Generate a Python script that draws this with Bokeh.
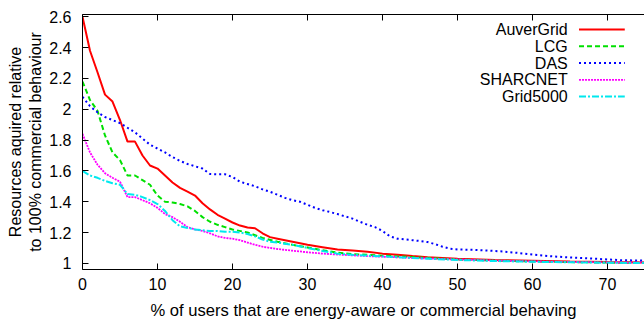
from bokeh.plotting import figure
from bokeh.models import Range1d, LinearAxis, FixedTicker, Label
from bokeh.embed import file_html
from bokeh.resources import INLINE

# ---- data ----
auvergrid_x = [0, 1, 2, 3, 4, 5, 6, 7, 8, 9, 10, 11, 12, 13, 14, 15, 16, 17, 18, 19, 20,
               21, 22, 23, 24, 25, 26, 28, 30, 32, 34, 36, 38, 40, 42, 44, 46, 48, 50,
               55, 60, 65, 70, 75]
auvergrid_y = [2.60, 2.38, 2.24, 2.095, 2.05, 1.93, 1.79, 1.79, 1.70, 1.635, 1.615, 1.57,
               1.525, 1.49, 1.465, 1.44, 1.39, 1.35, 1.315, 1.29, 1.265, 1.245, 1.232,
               1.228, 1.195, 1.17, 1.16, 1.14, 1.12, 1.105, 1.09, 1.083, 1.075, 1.063,
               1.055, 1.047, 1.04, 1.035, 1.03, 1.022, 1.017, 1.012, 1.008, 1.005]

lcg_x = [0, 1, 2, 3, 4, 5, 6, 7, 8, 9, 10, 11, 12, 13, 14, 15, 16, 17, 18, 19, 20, 22,
         24, 26, 28, 30, 32, 34, 36, 38, 40, 45, 50, 55, 60, 65, 70, 75]
lcg_y = [2.18, 2.06, 1.99, 1.83, 1.72, 1.67, 1.57, 1.57, 1.54, 1.51, 1.44, 1.40, 1.395,
         1.385, 1.37, 1.34, 1.30, 1.27, 1.25, 1.235, 1.22, 1.20, 1.165, 1.14, 1.12,
         1.103, 1.085, 1.07, 1.06, 1.055, 1.05, 1.038, 1.025, 1.018, 1.012, 1.008,
         1.005, 1.003]

das_x = [0, 1, 2, 3, 4, 5, 6, 7, 8, 9, 10, 11, 12, 13, 14, 15, 16, 17, 18, 19, 20, 21,
         22, 23, 24, 25, 26, 27, 28, 29, 30, 31, 32, 33, 34, 35, 36, 37, 38, 39, 40, 41,
         42, 43, 44, 45, 46, 47, 48, 49, 50, 52, 54, 56, 58, 60, 62, 64, 66, 68, 70,
         72, 75]
das_y = [2.08, 2.02, 1.98, 1.95, 1.93, 1.91, 1.88, 1.85, 1.81, 1.77, 1.745, 1.72, 1.69,
         1.665, 1.645, 1.63, 1.615, 1.58, 1.578, 1.578, 1.56, 1.53, 1.515, 1.50, 1.48,
         1.465, 1.445, 1.425, 1.41, 1.40, 1.38, 1.36, 1.345, 1.333, 1.32, 1.305, 1.29,
         1.27, 1.25, 1.235, 1.21, 1.175, 1.16, 1.155, 1.15, 1.145, 1.138, 1.125, 1.108,
         1.095, 1.09, 1.088, 1.083, 1.077, 1.068, 1.057, 1.048, 1.041, 1.036, 1.031,
         1.025, 1.02, 1.018]

sharcnet_x = [0, 1, 2, 3, 4, 5, 6, 7, 8, 9, 10, 11, 12, 13, 14, 15, 16, 17, 18, 19, 20,
              21, 22, 23, 24, 25, 26, 28, 30, 32, 34, 36, 38, 40, 45, 50, 55, 60, 65,
              70, 75]
sharcnet_y = [1.84, 1.72, 1.64, 1.585, 1.555, 1.53, 1.43, 1.43, 1.41, 1.39, 1.36, 1.32,
              1.30, 1.27, 1.235, 1.22, 1.21, 1.195, 1.175, 1.165, 1.16, 1.15, 1.135,
              1.12, 1.108, 1.10, 1.093, 1.082, 1.072, 1.063, 1.057, 1.052, 1.047, 1.043,
              1.033, 1.025, 1.018, 1.013, 1.009, 1.006, 1.004]

grid5000_x = [0, 1, 2, 3, 4, 5, 6, 7, 8, 9, 10, 11, 12, 13, 14, 15, 16, 17, 18, 19, 20,
              21, 22, 23, 24, 25, 26, 28, 30, 32, 34, 36, 38, 40, 45, 50, 55, 60, 65,
              70, 75]
grid5000_y = [1.60, 1.57, 1.555, 1.535, 1.52, 1.51, 1.45, 1.445, 1.43, 1.41, 1.385, 1.34,
              1.28, 1.24, 1.23, 1.22, 1.215, 1.21, 1.21, 1.205, 1.205, 1.20, 1.19, 1.175,
              1.155, 1.14, 1.135, 1.12, 1.10, 1.08, 1.063, 1.055, 1.05, 1.045, 1.032,
              1.022, 1.015, 1.01, 1.007, 1.004, 1.002]

series_names = ["AuverGrid", "LCG", "DAS", "SHARCNET", "Grid5000"]
x_ticks = [0, 10, 20, 30, 40, 50, 60, 70]
y_ticks = [1.0, 1.2, 1.4, 1.6, 1.8, 2.0, 2.2, 2.4, 2.6]
x_title = "% of users that are energy-aware or commercial behaving"
y_title = "Resources aquired relative\nto 100% commercial behaviour"

# ---- styles ----
FONT = "Liberation Sans"
FS = "16px"
styles = [
    dict(color="#ff0000", width=2.0, dash="solid"),
    dict(color="#00e000", width=2.0, dash="5 3"),
    dict(color="#0000ff", width=2.0, dash="2 3"),
    dict(color="#ff00ff", width=1.8, dash="2 1"),
    dict(color="#00e8ee", width=2.0, dash="7 2 2 2"),
]

p = figure(width=644, height=322, output_backend="svg", toolbar_location=None,
           x_range=Range1d(0, 74.93), y_range=Range1d(0.96, 2.615),
           min_border_left=82, min_border_right=0, min_border_top=14,
           min_border_bottom=53)
p.outline_line_color = None
p.xgrid.visible = False
p.ygrid.visible = False
p.background_fill_color = "white"
p.border_fill_color = "white"

for ax in (p.xaxis[0], p.yaxis[0]):
    ax.major_tick_in = 6
    ax.major_tick_out = 0
    ax.minor_tick_line_color = None
    ax.axis_line_color = "black"
    ax.major_tick_line_color = "black"
    ax.major_label_text_font = FONT
    ax.major_label_text_font_size = FS
    ax.major_label_text_color = "black"
    ax.axis_label_text_font = FONT
    ax.axis_label_text_font_size = FS
    ax.axis_label_text_font_style = "normal"
    ax.axis_label_text_color = "black"

p.xaxis[0].ticker = FixedTicker(ticks=x_ticks)
p.yaxis[0].ticker = FixedTicker(ticks=y_ticks)
p.xaxis[0].major_label_standoff = 8
p.yaxis[0].major_label_standoff = 11
p.yaxis[0].major_label_overrides = {1.0: "1", 2.0: "2"}
p.xaxis[0].axis_label = x_title
p.xaxis[0].axis_label_text_font_size = "16.6px"
p.xaxis[0].axis_label_standoff = 8
p.yaxis[0].axis_label = y_title
p.yaxis[0].axis_label_standoff = 2

top = LinearAxis(ticker=FixedTicker(ticks=x_ticks), major_tick_in=6, major_tick_out=0,
                 minor_tick_line_color=None, major_label_standoff=0,
                 major_label_overrides={t: "" for t in x_ticks},
                 axis_line_color="black")
p.add_layout(top, "above")

xs = [auvergrid_x, lcg_x, das_x, sharcnet_x, grid5000_x]
ys = [auvergrid_y, lcg_y, das_y, sharcnet_y, grid5000_y]
for xv, yv, st in zip(xs, ys, styles):
    p.line(xv, yv, line_color=st["color"], line_width=st["width"], line_dash=st["dash"])

# ---- gnuplot-style legend: right-aligned label, sample on the right ----
leg_text_x = 64.7
leg_line_x0, leg_line_x1 = 66.2, 72.3
leg_top = 2.518
leg_step = 0.109
for i, (name, st) in enumerate(zip(series_names, styles)):
    yy = leg_top - i * leg_step
    p.add_layout(Label(x=leg_text_x, y=yy, text=name, text_align="right",
                       text_baseline="middle", text_font=FONT, text_font_size=FS,
                       text_color="black"))
    p.line([leg_line_x0, leg_line_x1], [yy, yy], line_color=st["color"],
           line_width=st["width"], line_dash=st["dash"])

open("out.html", "w").write(file_html(p, INLINE))
